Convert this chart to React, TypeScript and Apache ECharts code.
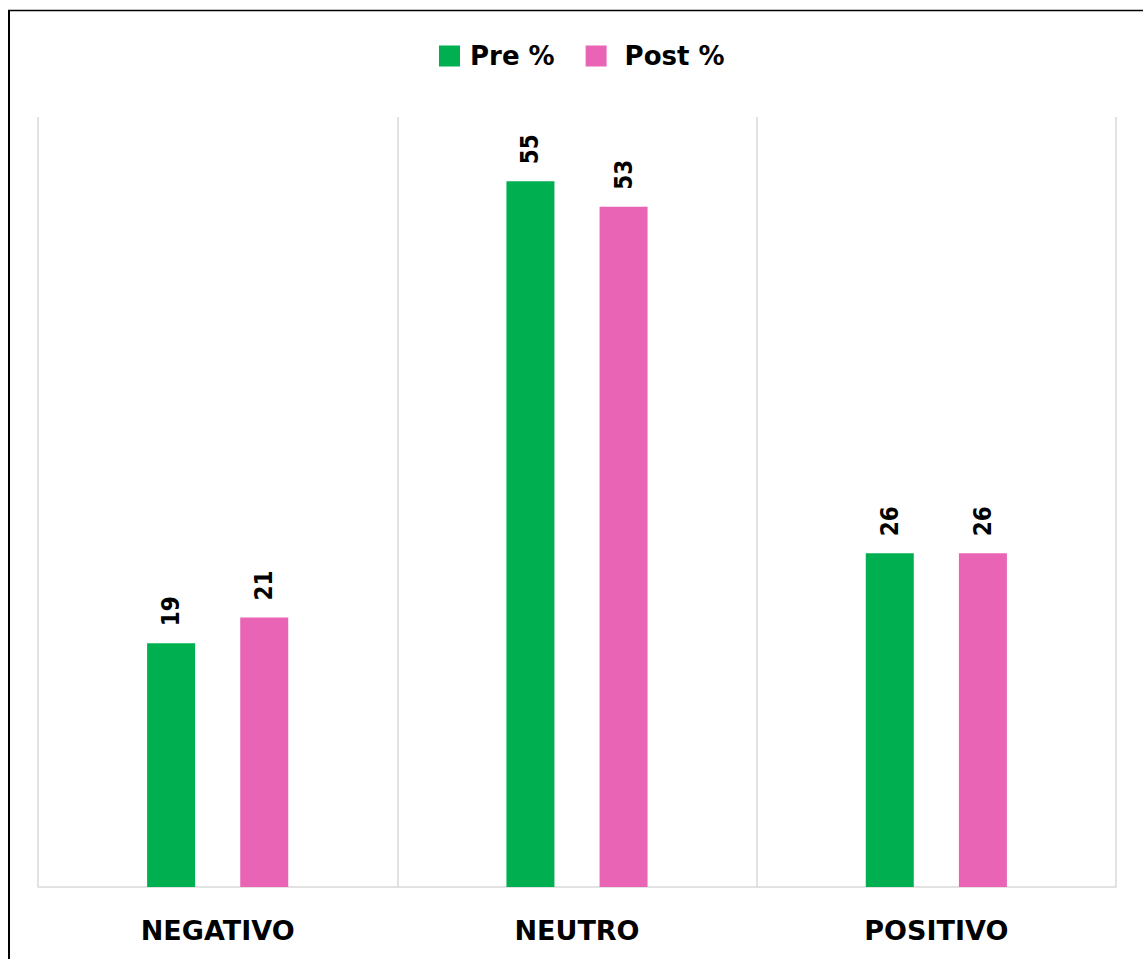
import React, { useEffect, useRef } from "react";
import * as echarts from "echarts";

// Sentiment categories and the share (%) in each, before and after
const categories = ["NEGATIVO", "NEUTRO", "POSITIVO"];
const preValues = [19, 55, 26];
const postValues = [21, 53, 26];
const seriesNames = ["Pre %", "Post %"];

const GREEN = "#00B050";
const PINK = "#E964B5";
const GRID_GRAY = "#D9D9D9";

export default function App() {
  const ref = useRef<HTMLDivElement>(null);

  useEffect(() => {
    if (!ref.current) return;
    const chart = echarts.init(ref.current, undefined, { renderer: "svg" });

    const valueLabel = {
      show: true,
      position: "top",
      rotate: 90,
      align: "left",
      verticalAlign: "middle",
      distance: 17,
      color: "#000",
      fontWeight: "bold",
      fontSize: 24,
      fontFamily: "'DejaVu Sans Condensed', 'DejaVu Sans', sans-serif",
    };

    chart.setOption({
      animation: false,
      backgroundColor: "#fff",
      legend: {
        left: 439,
        top: 43,
        padding: 0,
        itemWidth: 21,
        itemHeight: 21,
        itemGap: 31,
        icon: "rect",
        textStyle: {
          fontSize: 26,
          fontWeight: "bold",
          color: "#000",
          fontFamily: "'DejaVu Sans', sans-serif",
        },
        data: [
          { name: seriesNames[0], textStyle: { padding: [0, 0, 0, 5] } },
          { name: seriesNames[1], textStyle: { padding: [0, 0, 0, 13] } },
        ],
      },
      grid: { left: 38, right: 27, top: 117, bottom: 72 },
      xAxis: {
        type: "category",
        data: categories,
        boundaryGap: true,
        axisLine: { show: true, lineStyle: { color: GRID_GRAY, width: 1.5 } },
        axisTick: { show: false },
        splitLine: { show: true, lineStyle: { color: GRID_GRAY, width: 1.5 } },
        axisLabel: {
          margin: 30,
          color: "#000",
          fontSize: 27,
          fontWeight: "bold",
          fontFamily: "'DejaVu Sans', sans-serif",
        },
      },
      yAxis: {
        type: "value",
        min: 0,
        max: 60,
        show: false,
        splitLine: { show: false },
      },
      series: [
        {
          name: seriesNames[0],
          type: "bar",
          data: preValues,
          barWidth: 48,
          barGap: "94%",
          itemStyle: { color: GREEN },
          label: valueLabel,
        },
        {
          name: seriesNames[1],
          type: "bar",
          data: postValues,
          barWidth: 48,
          barGap: "94%",
          itemStyle: { color: PINK },
          label: valueLabel,
        },
      ],
      graphic: [
        {
          type: "line",
          shape: { x1: 9, y1: 10, x2: 9, y2: 959 },
          style: { stroke: "#000", lineWidth: 2 },
          silent: true,
        },
        {
          type: "line",
          shape: { x1: 8, y1: 10.5, x2: 1143, y2: 10.5 },
          style: { stroke: "#000", lineWidth: 1.5 },
          silent: true,
        },
      ],
    });

    return () => chart.dispose();
  }, []);

  return (
    <div
      ref={ref}
      style={{ position: "fixed", left: 0, top: 0, width: 1143, height: 959 }}
    />
  );
}
